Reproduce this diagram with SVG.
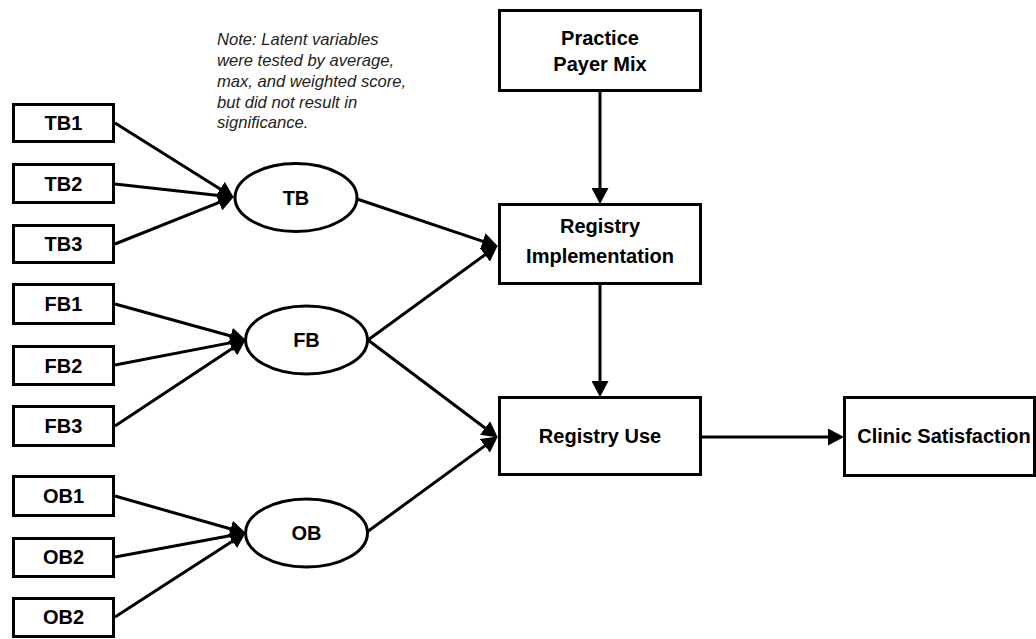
<svg xmlns="http://www.w3.org/2000/svg" width="1036" height="639" viewBox="0 0 1036 639">
  <style>
    .box { fill: #ffffff; stroke: #000000; stroke-width: 3; }
    .oval { fill: #ffffff; stroke: #000000; stroke-width: 3; }
    .lbl { font-family: "Liberation Sans", Arial, sans-serif; font-weight: bold; font-size: 20px; fill: #000000; text-anchor: middle; }
    .note { font-family: "Liberation Sans", Arial, sans-serif; font-style: italic; font-size: 16.6px; fill: #222222; }
    .edge { stroke: #000000; stroke-width: 3; fill: none; marker-end: url(#arrow); }
  </style>
  <defs>
    <marker id="arrow" markerUnits="userSpaceOnUse" markerWidth="17" markerHeight="17" refX="5" refY="8.5" orient="auto">
      <path d="M0,0 L16,8.5 L0,17 z" fill="#000000"/>
    </marker>
  </defs>

  <rect width="1036" height="639" fill="#ffffff"/>

  <!-- note -->
  <text class="note" x="217" y="45">Note: Latent variables</text>
  <text class="note" x="217" y="66">were tested by average,</text>
  <text class="note" x="217" y="87">max, and weighted score,</text>
  <text class="note" x="217" y="108">but did not result in</text>
  <text class="note" x="217" y="128">significance.</text>

  <!-- connectors -->
  <g id="connectors">
    <line class="edge" x1="115" y1="123" x2="224.5" y2="191.7"/>
    <line class="edge" x1="115" y1="184" x2="223.1" y2="195.9"/>
    <line class="edge" x1="115" y1="244" x2="223.7" y2="200.7"/>
    <line class="edge" x1="115" y1="304" x2="235.4" y2="337.3"/>
    <line class="edge" x1="115" y1="365" x2="235.2" y2="341.9"/>
    <line class="edge" x1="115" y1="426" x2="236.7" y2="345.5"/>
    <line class="edge" x1="115" y1="496" x2="235.4" y2="530.3"/>
    <line class="edge" x1="115" y1="557" x2="235.2" y2="534.8"/>
    <line class="edge" x1="115" y1="617" x2="236.6" y2="538.4"/>
    <line class="edge" x1="357" y1="199" x2="487.5" y2="242.8"/>
    <line class="edge" x1="368" y1="340" x2="488.9" y2="251.9"/>
    <line class="edge" x1="368" y1="340" x2="489.0" y2="431.0"/>
    <line class="edge" x1="367" y1="532" x2="488.9" y2="442.9"/>
    <line class="edge" x1="600" y1="92" x2="600" y2="193"/>
    <line class="edge" x1="600" y1="285" x2="600" y2="386"/>
    <line class="edge" x1="702" y1="437" x2="833" y2="437"/>
  </g>

  <!-- indicator boxes -->
  <g id="TB1"><rect class="box" x="13.5" y="104.5" width="100" height="37"/><text class="lbl" x="63.5" y="130">TB1</text></g>
  <g id="TB2"><rect class="box" x="13.5" y="164.5" width="100" height="38"/><text class="lbl" x="63.5" y="190.5">TB2</text></g>
  <g id="TB3"><rect class="box" x="13.5" y="225.5" width="100" height="37"/><text class="lbl" x="63.5" y="251">TB3</text></g>
  <g id="FB1"><rect class="box" x="13.5" y="284.5" width="100" height="39"/><text class="lbl" x="63.5" y="311">FB1</text></g>
  <g id="FB2"><rect class="box" x="13.5" y="346.5" width="100" height="38"/><text class="lbl" x="63.5" y="372.5">FB2</text></g>
  <g id="FB3"><rect class="box" x="13.5" y="406.5" width="100" height="39"/><text class="lbl" x="63.5" y="433">FB3</text></g>
  <g id="OB1"><rect class="box" x="13.5" y="476.5" width="100" height="39"/><text class="lbl" x="63.5" y="503">OB1</text></g>
  <g id="OB2a"><rect class="box" x="13.5" y="538.5" width="100" height="38"/><text class="lbl" x="63.5" y="564">OB2</text></g>
  <g id="OB2b"><rect class="box" x="13.5" y="598.5" width="100" height="38"/><text class="lbl" x="63.5" y="624">OB2</text></g>

  <!-- latent variables -->
  <g id="TB"><ellipse class="oval" cx="296" cy="197.5" rx="61" ry="34"/><text class="lbl" x="296" y="204.5">TB</text></g>
  <g id="FB"><ellipse class="oval" cx="306.5" cy="340" rx="61" ry="34"/><text class="lbl" x="306.5" y="347">FB</text></g>
  <g id="OB"><ellipse class="oval" cx="306.5" cy="533" rx="61" ry="34"/><text class="lbl" x="306.5" y="540">OB</text></g>

  <!-- outcome chain -->
  <g id="PayerMix"><rect class="box" x="499.5" y="10.5" width="201" height="80"/><text class="lbl" x="600" y="45">Practice</text><text class="lbl" x="600" y="71">Payer Mix</text></g>
  <g id="RegistryImplementation"><rect class="box" x="499.5" y="204.5" width="201" height="79"/><text class="lbl" x="600" y="233">Registry</text><text class="lbl" x="600" y="263">Implementation</text></g>
  <g id="RegistryUse"><rect class="box" x="499.5" y="397.5" width="201" height="77"/><text class="lbl" x="600" y="443">Registry Use</text></g>
  <g id="ClinicSatisfaction"><rect class="box" x="844.5" y="397.5" width="190" height="78"/><text class="lbl" x="944" y="443">Clinic Satisfaction</text></g>
</svg>
